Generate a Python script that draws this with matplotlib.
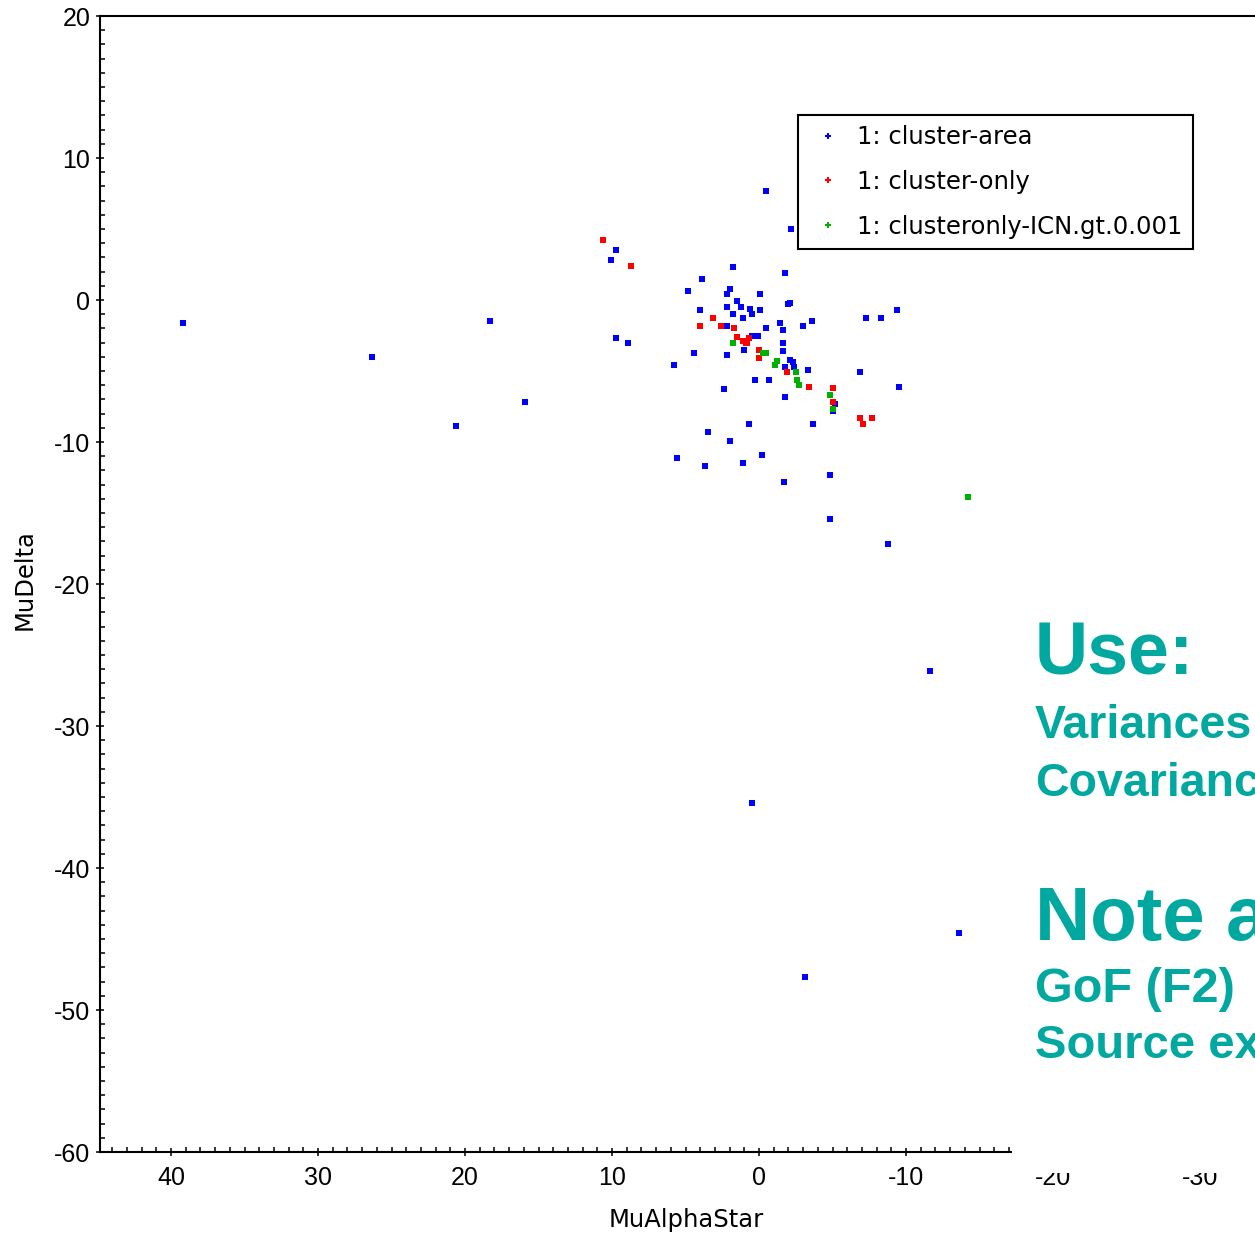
import matplotlib
matplotlib.use("Agg")
import matplotlib.pyplot as plt
from matplotlib.lines import Line2D
from matplotlib.patches import Rectangle
from matplotlib.ticker import MultipleLocator

plt.rcParams['font.family'] = ['Liberation Sans', 'DejaVu Sans']
plt.rcParams['axes.unicode_minus'] = False

# values (MuAlphaStar, MuDelta)
area_x = [39.2, 26.3, 20.6, 18.3, 15.9, 9.7, 10.1, -0.5, -2.2, 1.8, -1.8, 3.9, 4.8, 2.0, 2.2,
          -0.1, 1.5, 1.2, 2.2, 0.6, 0.5, 1.8, -0.1, 1.1, -2.0, -2.1, 4.0, 2.2, -0.5, -1.4,
          -1.6, -3.0, -3.6, -7.3, -8.3, -9.4, 9.7, 8.9, 0.1, 0.5, -1.6, -1.6, 1.0, 4.4, 2.2,
          5.8, -2.1, -2.3, -2.4, -1.8, -3.3, -6.9, 0.3, -0.7, -9.5, 2.4, -1.8, -5.2, -5.0,
          0.7, -3.7, 3.5, 2.0, 5.6, 3.7, 1.1, -0.2, -1.7, -4.8, -4.8, -8.8, -11.6, 0.5,
          -13.6, -3.1]
area_y = [-1.6, -4.0, -8.9, -1.5, -7.2, 3.5, 2.8, 7.7, 5.0, 2.3, 1.9, 1.5, 0.6, 0.8, 0.4,
          0.4, -0.1, -0.5, -0.5, -0.6, -1.0, -1.0, -0.7, -1.3, -0.3, -0.2, -0.7, -1.8, -2.0,
          -1.6, -2.1, -1.8, -1.5, -1.3, -1.3, -0.7, -2.7, -3.0, -2.5, -2.5, -3.0, -3.6, -3.5,
          -3.7, -3.9, -4.6, -4.2, -4.4, -4.7, -4.7, -4.9, -5.1, -5.6, -5.6, -6.1, -6.3, -6.8,
          -7.3, -7.8, -8.7, -8.7, -9.3, -9.9, -11.1, -11.7, -11.5, -10.9, -12.8, -12.3,
          -15.4, -17.2, -26.1, -35.4, -44.6, -47.7]

only_x = [10.6, 8.7, 3.1, 4.0, 2.6, 1.7, 1.5, 0.9, 0.7, 0.8, 1.1, 0.0, 0.0, -1.9, -3.4,
          -5.0, -5.0, -6.9, -7.1, -7.7]
only_y = [4.2, 2.4, -1.3, -1.8, -1.8, -2.0, -2.6, -3.0, -2.7, -3.0, -2.9, -3.5, -4.1, -5.1,
          -6.1, -6.2, -7.2, -8.3, -8.7, -8.3]

icn_x = [1.8, -0.3, -0.5, -1.2, -1.1, -2.5, -2.6, -2.7, -4.8, -5.0, -14.2]
icn_y = [-3.0, -3.7, -3.7, -4.3, -4.6, -5.1, -5.6, -6.0, -6.7, -7.7, -13.9]

labels = ['1: cluster-area', '1: cluster-only', '1: clusteronly-ICN.gt.0.001']
colors = ['#0000ff', '#ff0000', '#00b000']

W, H = 1255, 1237
fig = plt.figure(figsize=(W / 100, H / 100), dpi=100)
ax = fig.add_axes([100 / W, 85 / H, 1247 / W, 1136 / H])

for xs, ys, c in zip([area_x, only_x, icn_x], [area_y, only_y, icn_y], colors):
    ax.plot(xs, ys, 's', color=c, markersize=4.6, markeredgewidth=0, ls='none')

ax.set_xlim(44.83, -40)
ax.set_ylim(-60, 20)
ax.xaxis.set_major_locator(MultipleLocator(10))
ax.xaxis.set_minor_locator(MultipleLocator(1))
ax.yaxis.set_major_locator(MultipleLocator(10))
ax.yaxis.set_minor_locator(MultipleLocator(1))
ax.tick_params(which='major', direction='inout', length=6, width=1.1, labelsize=18)
ax.tick_params(axis='x', which='major', pad=7)
ax.tick_params(axis='y', which='major', pad=4)
ax.tick_params(which='minor', direction='in', length=3.6, width=1.1)
for s in ax.spines.values():
    s.set_linewidth(1.5)

lab_font = dict(fontsize=17.5, family='DejaVu Sans')
ax.set_xlabel('MuAlphaStar', **lab_font)
ax.set_ylabel('MuDelta', **lab_font)
ax.xaxis.set_label_coords((686 - 100) / 1247, -56 / 1136)
ax.yaxis.set_label_coords(-63 / 1247, 0.5035)

handles = [Line2D([], [], marker='+', ls='none', color=c, markersize=5, markeredgewidth=1.5)
           for c in colors]
leg = fig.legend(handles, labels, loc='upper left', bbox_to_anchor=(798 / W, 1 - 115 / H),
                 prop={'family': 'DejaVu Sans', 'size': 17.5}, frameon=True, fancybox=False,
                 framealpha=1, borderaxespad=0, borderpad=0.42, handlelength=1.63,
                 handletextpad=0.38, labelspacing=0.85)
leg.get_frame().set_edgecolor('black')
leg.get_frame().set_linewidth(1.5)

# slide overlay on the right
fig.add_artist(Rectangle((1012 / W, 1 - 1173 / H), (W - 1012) / W, (1173 - 260) / H,
                         transform=fig.transFigure, facecolor='white', edgecolor='none',
                         zorder=5))
teal = '#00a8a0'
notes = [('Use:', 53, 675), ('Variances', 33.5, 738), ('Covariances', 33.5, 796),
         ('Note also', 55, 940), ('GoF (F2)', 35, 1002), ('Source excess', 34, 1058)]
for txt, fs, yb in notes:
    fig.text(1035 / W, 1 - yb / H, txt, color=teal, fontsize=fs, fontweight='bold',
             ha='left', va='baseline', zorder=6)

fig.savefig('out.png', dpi=100)
